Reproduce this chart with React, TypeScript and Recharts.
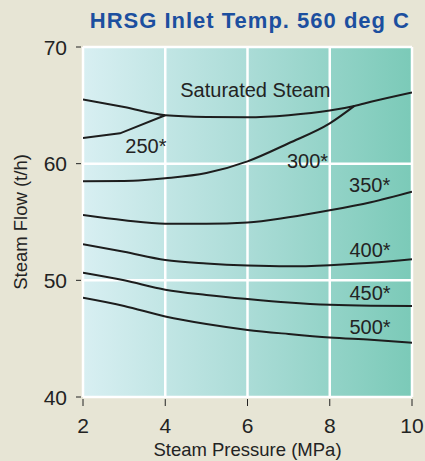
import { LineChart, Line, XAxis, YAxis, CartesianGrid, ReferenceDot, Label } from 'recharts';

// Steam pressure (MPa) vs steam flow (t/h), one curve per inlet temperature
const saturated = [
  { x: 2, y: 65.5 }, { x: 3, y: 64.85 }, { x: 4, y: 64.15 }, { x: 5, y: 64.0 },
  { x: 6, y: 63.97 }, { x: 7, y: 64.15 }, { x: 8, y: 64.55 }, { x: 8.6, y: 64.95 },
  { x: 9, y: 65.3 }, { x: 10, y: 66.1 },
];
const t250 = [{ x: 2, y: 62.2 }, { x: 2.9, y: 62.6 }, { x: 4, y: 64.15 }];
const t300 = [
  { x: 2, y: 58.5 }, { x: 3, y: 58.52 }, { x: 3.5, y: 58.6 }, { x: 4, y: 58.75 },
  { x: 5, y: 59.2 }, { x: 6, y: 60.2 }, { x: 7, y: 61.75 }, { x: 8, y: 63.45 }, { x: 8.6, y: 64.95 },
];
const t350 = [
  { x: 2, y: 55.6 }, { x: 3, y: 55.15 }, { x: 4, y: 54.85 }, { x: 5, y: 54.85 }, { x: 6, y: 54.95 },
  { x: 7, y: 55.4 }, { x: 8, y: 56.0 }, { x: 9, y: 56.7 }, { x: 10, y: 57.6 },
];
const t400 = [
  { x: 2, y: 53.1 }, { x: 3, y: 52.45 }, { x: 4, y: 51.75 }, { x: 5, y: 51.45 }, { x: 6, y: 51.27 },
  { x: 7, y: 51.2 }, { x: 8, y: 51.3 }, { x: 9, y: 51.5 }, { x: 10, y: 51.8 },
];
const t450 = [
  { x: 2, y: 50.65 }, { x: 3, y: 50.0 }, { x: 4, y: 49.2 }, { x: 5, y: 48.75 }, { x: 6, y: 48.4 },
  { x: 7, y: 48.1 }, { x: 8, y: 47.9 }, { x: 9, y: 47.82 }, { x: 10, y: 47.8 },
];
const t500 = [
  { x: 2, y: 48.5 }, { x: 3, y: 47.8 }, { x: 4, y: 46.9 }, { x: 5, y: 46.25 }, { x: 6, y: 45.75 },
  { x: 7, y: 45.4 }, { x: 8, y: 45.1 }, { x: 9, y: 44.9 }, { x: 10, y: 44.65 },
];

const curveLabels = [
  { text: 'Saturated Steam', x: 6.19, y: 66.3 },
  { text: '250*', x: 3.53, y: 61.5 },
  { text: '300*', x: 7.46, y: 60.26 },
  { text: '350*', x: 8.97, y: 58.2 },
  { text: '400*', x: 8.98, y: 52.6 },
  { text: '450*', x: 8.98, y: 48.9 },
  { text: '500*', x: 8.98, y: 46.0 },
];

const xTicks = [2, 4, 6, 8, 10];
const yTicks = [40, 50, 60, 70];

const FONT = '"Liberation Sans", Arial, sans-serif';
const INK = '#232323';

const XTick = ({ x, y, payload }: any) => (
  <g>
    <line x1={x} x2={x} y1={y + 2} y2={y + 9} stroke={INK} strokeWidth={1} />
    <text x={x} y={y + 36} textAnchor="middle" fontSize={21} fill={INK} fontFamily={FONT}>
      {payload.value}
    </text>
  </g>
);

const YTick = ({ x, y, payload }: any) => (
  <g>
    <line x1={x - 7} x2={x - 2} y1={y} y2={y} stroke={INK} strokeWidth={1} />
    <text x={x - 16} y={y + 7.5} textAnchor="end" fontSize={21} fill={INK} fontFamily={FONT}>
      {payload.value}
    </text>
  </g>
);

const series = [saturated, t250, t300, t350, t400, t450, t500];

export default function App() {
  return (
    <div
      style={{
        position: 'absolute',
        left: 0,
        top: 0,
        width: 425,
        height: 461,
        background: '#e7e5d5',
        fontFamily: FONT,
      }}
    >
      <div
        style={{
          position: 'absolute',
          right: 15,
          top: 8,
          fontSize: 22,
          fontWeight: 'bold',
          letterSpacing: 1,
          color: '#1c4f9f',
          whiteSpace: 'nowrap',
        }}
      >
        HRSG Inlet Temp. 560 deg C
      </div>
      <LineChart width={425} height={461} margin={{ top: 47, right: 13, left: 0, bottom: 0 }}>
        <defs>
          <linearGradient id="plotBg" x1="0" y1="0" x2="1" y2="0">
            <stop offset="0%" stopColor="#d8eff2" />
            <stop offset="50%" stopColor="#abdcd7" />
            <stop offset="100%" stopColor="#7bcab8" />
          </linearGradient>
        </defs>
        <CartesianGrid fill="url(#plotBg)" stroke="#ffffff" strokeWidth={2.5} fillOpacity={1} />
        <XAxis
          type="number"
          dataKey="x"
          domain={[2, 10]}
          ticks={xTicks}
          height={64}
          axisLine={false}
          tickLine={false}
          tickSize={0}
          tickMargin={0}
          tick={<XTick />}
          allowDataOverflow
        >
          <Label
            value="Steam Pressure (MPa)"
            position="insideBottom"
            offset={5}
            fontSize={18.5}
            fill={INK}
            fontFamily={FONT}
          />
        </XAxis>
        <YAxis
          type="number"
          dataKey="y"
          domain={[40, 70]}
          ticks={yTicks}
          width={83}
          axisLine={false}
          tickLine={false}
          tickSize={0}
          tickMargin={0}
          tick={<YTick />}
          allowDataOverflow
        >
          <Label
            content={({ viewBox }: any) => {
              const cx = viewBox.x + 20;
              const cy = viewBox.y + viewBox.height / 2;
              return (
                <text
                  x={cx}
                  y={cy}
                  transform={`rotate(-90 ${cx} ${cy})`}
                  textAnchor="middle"
                  dominantBaseline="central"
                  fontSize={18.5}
                  fill={INK}
                  fontFamily={FONT}
                >
                  Steam Flow (t/h)
                </text>
              );
            }}
          />
        </YAxis>
        {series.map((d, i) => (
          <Line
            key={i}
            data={d}
            dataKey="y"
            type={d === t250 ? 'linear' : 'monotone'}
            stroke="#1d1d1d"
            strokeWidth={2}
            dot={false}
            activeDot={false}
            isAnimationActive={false}
          />
        ))}
        {curveLabels.map((l) => (
          <ReferenceDot
            key={l.text}
            x={l.x}
            y={l.y}
            r={1}
            fill="none"
            stroke="none"
            label={{ value: l.text, position: 'center', fontSize: 20, fill: INK, fontFamily: FONT }}
          />
        ))}
      </LineChart>
    </div>
  );
}
